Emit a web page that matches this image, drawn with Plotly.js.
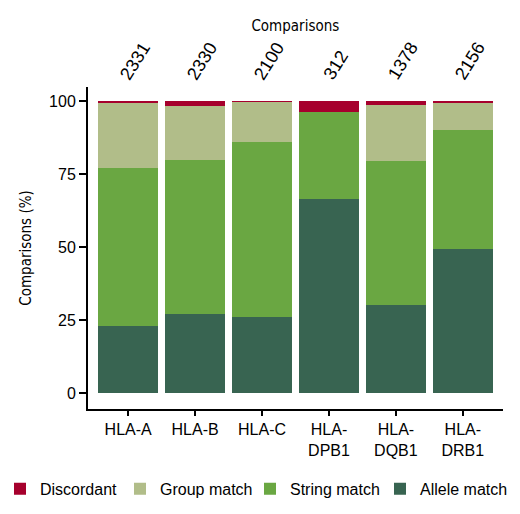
<!DOCTYPE html>
<html>
<head>
<meta charset="utf-8">
<script src="https://cdn.plot.ly/plotly-3.0.1.min.js"></script>
<style>
  html, body { margin: 0; padding: 0; background: #fff; }
  #chart { width: 520px; height: 514px; outline: 2px solid #000; outline-offset: -2px; }
</style>
</head>
<body>
<div id="chart"></div>
<script>
"use strict";

// loci on the x axis, with line breaks as in the figure
const loci = ["HLA-A", "HLA-B", "HLA-C", "HLA-<br>DPB1", "HLA-<br>DQB1", "HLA-<br>DRB1"];

// number of comparisons per locus (top labels)
const comparisons = [2331, 2330, 2100, 312, 1378, 2156];

// percentage of comparisons
const alleleMatch = [22.8, 27.1, 26.1, 66.6, 30.1, 49.2];
const stringMatch = [54.1, 52.7, 59.8, 29.5, 49.4, 40.8];
const groupMatch = [22.3, 18.6, 13.8, 0.0, 19.3, 9.3];
const discordant = [0.8, 1.6, 0.3, 3.9, 1.2, 0.7];

const yTicks = [0, 25, 50, 75, 100];

const font = "Liberation Sans, Arial, Helvetica, sans-serif";
const narrow = "Liberation Sans Narrow, DejaVu Sans Condensed, sans-serif";

function barTrace(name, values, color, legend) {
  return {
    type: "bar",
    name: name,
    legend: legend,
    x: loci,
    y: values,
    marker: { color: color, line: { width: 0 } },
    hoverinfo: "name+y",
  };
}

// bottom to top of the stack
const data = [
  barTrace("Allele match", alleleMatch, "#386451", "legend4"),
  barTrace("String match", stringMatch, "#6aa742", "legend3"),
  barTrace("Group match", groupMatch, "#b1bd89", "legend2"),
  barTrace("Discordant", discordant, "#a6002d", "legend"),
];

// rotated counts above each bar
const annotations = loci.map((locus, i) => ({
  x: locus,
  xref: "x",
  y: 1,
  yref: "paper",
  text: String(comparisons[i]),
  textangle: -58,
  showarrow: false,
  xanchor: "center",
  yanchor: "bottom",
  xshift: 7,
  yshift: 1,
  font: { family: font, size: 18, color: "#000" },
}));

// one legend per entry so the row can be spaced like the figure
function legendAt(x) {
  return {
    orientation: "h",
    xref: "container",
    x: x,
    xanchor: "left",
    yref: "container",
    y: 0.049,
    yanchor: "middle",
    font: { family: font, size: 16, color: "#000" },
    bgcolor: "rgba(0,0,0,0)",
    borderwidth: 0,
  };
}

const layout = {
  width: 520,
  height: 514,
  margin: { l: 88, r: 17, t: 87, b: 105 },
  paper_bgcolor: "#fff",
  plot_bgcolor: "#fff",
  barmode: "stack",
  bargap: 0.1,
  font: { family: font, size: 16, color: "#000" },
  title: {
    text: "Comparisons",
    x: 0.568,
    xanchor: "center",
    y: 0.949,
    yanchor: "middle",
    font: { family: narrow, size: 15, color: "#000" },
  },
  xaxis: {
    type: "category",
    range: [-0.6, 5.6],
    showline: true,
    linecolor: "#000",
    linewidth: 2,
    ticks: "outside",
    ticklen: 5,
    tickwidth: 2,
    tickcolor: "#000",
    showgrid: false,
    zeroline: false,
    tickfont: { family: font, size: 16, color: "#000" },
  },
  yaxis: {
    range: [-5.5, 104.8],
    tickmode: "array",
    tickvals: yTicks,
    ticktext: yTicks.map(String),
    showline: true,
    linecolor: "#000",
    linewidth: 2,
    ticks: "outside",
    ticklen: 7,
    tickwidth: 2,
    tickcolor: "#000",
    showgrid: false,
    zeroline: false,
    tickfont: { family: font, size: 16, color: "#000" },
    title: {
      text: "Comparisons (%)",
      font: { family: narrow, size: 15, color: "#000" },
      standoff: 14,
    },
  },
  legend: legendAt(0 / 520),
  legend2: legendAt(120 / 520),
  legend3: legendAt(250 / 520),
  legend4: legendAt(380 / 520),
  annotations: annotations,
  showlegend: true,
};

Plotly.newPlot("chart", data, layout, { displayModeBar: false, responsive: false });
</script>
</body>
</html>
